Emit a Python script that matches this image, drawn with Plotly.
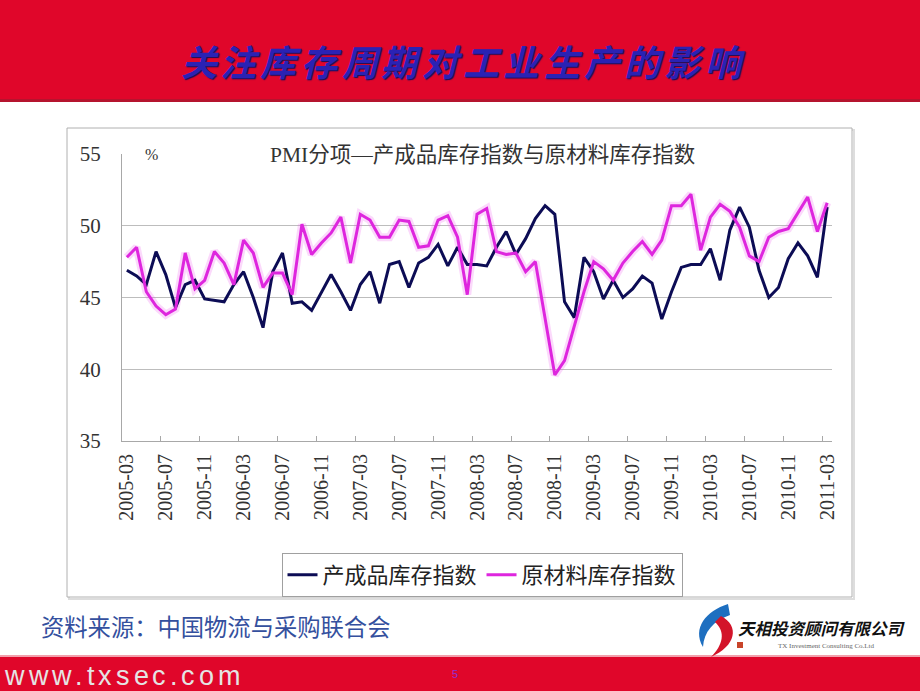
import plotly.graph_objects as go
import pandas as pd

# ---------------- data ----------------
months = pd.period_range("2005-03", "2011-03", freq="M").strftime("%Y-%m").tolist()

finished_goods = [46.9, 46.5, 45.9, 48.2, 46.6, 44.3, 45.9, 46.2, 44.9, 44.8, 44.7, 45.9,
                  46.8, 45.0, 42.9, 46.8, 48.1, 44.6, 44.7, 44.1, 45.3, 46.6, 45.4, 44.1,
                  45.9, 46.8, 44.6, 47.3, 47.5, 45.7, 47.4, 47.8, 48.7, 47.2, 48.5, 47.3,
                  47.3, 47.2, 48.5, 49.6, 48.0, 49.1, 50.5, 51.4, 50.8, 44.7, 43.6, 47.8,
                  46.8, 44.9, 46.2, 45.0, 45.6, 46.5, 46.0, 43.5, 45.4, 47.1, 47.3, 47.3,
                  48.4, 46.2, 49.7, 51.3, 49.9, 46.9, 45.0, 45.7, 47.7, 48.8, 47.9, 46.4,
                  51.3]

raw_materials = [47.8, 48.5, 45.4, 44.4, 43.8, 44.2, 48.1, 45.6, 46.2, 48.2, 47.4, 45.9,
                 49.0, 48.1, 45.7, 46.7, 46.7, 45.2, 50.1, 48.0, 48.8, 49.5, 50.6, 47.4,
                 50.8, 50.4, 49.2, 49.2, 50.4, 50.3, 48.5, 48.6, 50.4, 50.7, 49.2, 45.2,
                 50.8, 51.2, 48.2, 48.0, 48.1, 46.8, 47.5, 43.5, 39.6, 40.6, 43.1, 45.4,
                 47.5, 47.0, 46.2, 47.4, 48.2, 48.9, 48.0, 49.0, 51.4, 51.4, 52.2, 48.3,
                 50.6, 51.5, 51.0, 49.9, 47.9, 47.5, 49.2, 49.6, 49.8, 50.9, 52.0, 49.6,
                 51.6]

series_names = ["产成品库存指数", "原材料库存指数"]
y_ticks = [35, 40, 45, 50, 55]
grid_vals = [40, 45, 50]

slide_title = "关注库存周期对工业生产的影响"
chart_title = "PMI分项—产成品库存指数与原材料库存指数"
unit_label = "%"
source_text = "资料来源：中国物流与采购联合会"
footer_url = "www.txsec.com"
company_cn = "天相投资顾问有限公司"
company_en = "TX Investment Consulting Co.Ltd"
page_no = "5"

idx = list(range(len(months)))
tick_pos = idx[::4]
tick_text = months[::4]
between_ticks = [p + 3.5 for p in idx[:-4:4]]

# ---------------- geometry helpers ----------------
W, H = 920, 691
PL, PR, PT, PB = 122, 832, 154, 441


def px2x(x):
    return (x - PL) / (PR - PL)


def px2y(y):
    return (PB - y) / (PB - PT)


xr = [-0.5, 72.5]
yr = [35, 55]

serif = "Liberation Serif, 'Noto Sans CJK SC', serif"
cjk = "'Noto Sans CJK SC', sans-serif"

fig = go.Figure()
fig.add_trace(go.Scatter(x=idx, y=raw_materials, mode="lines",
                         line=dict(color="rgba(235,80,235,0.22)", width=8),
                         hoverinfo="skip", showlegend=False))
fig.add_trace(go.Scatter(x=idx, y=finished_goods, mode="lines", name=series_names[0],
                         line=dict(color="#0C0C55", width=3)))
fig.add_trace(go.Scatter(x=idx, y=raw_materials, mode="lines", name=series_names[1],
                         line=dict(color="#DE26DE", width=3), xaxis="x2", yaxis="y2"))

shapes = []
# header band
shapes.append(dict(type="rect", xref="paper", yref="paper", layer="below",
                   x0=px2x(-2), x1=px2x(W + 2), y0=px2y(-2), y1=px2y(99),
                   fillcolor="#E0062A", line=dict(width=0)))
shapes.append(dict(type="rect", xref="paper", yref="paper", layer="below",
                   x0=px2x(-2), x1=px2x(W + 2), y0=px2y(99), y1=px2y(102),
                   fillcolor="#B5142E", line=dict(width=0)))
# footer band
shapes.append(dict(type="rect", xref="paper", yref="paper", layer="below",
                   x0=px2x(-2), x1=px2x(W + 2), y0=px2y(657), y1=px2y(H + 2),
                   fillcolor="#E0062A", line=dict(width=0)))
shapes.append(dict(type="rect", xref="paper", yref="paper", layer="below",
                   x0=px2x(-2), x1=px2x(W + 2), y0=px2y(655), y1=px2y(657),
                   fillcolor="#F2A0AC", line=dict(width=0)))
# chart box with shadow
shapes.append(dict(type="rect", xref="paper", yref="paper", layer="below",
                   x0=px2x(69), x1=px2x(854), y0=px2y(130), y1=px2y(599),
                   line=dict(color="#DDDDDD", width=2)))
shapes.append(dict(type="rect", xref="paper", yref="paper", layer="below",
                   x0=px2x(67), x1=px2x(852), y0=px2y(128), y1=px2y(597),
                   fillcolor="white", line=dict(color="#B0B0B0", width=1)))


def path(points):
    s = ""
    for cmd, pts in points:
        s += cmd + " " + " ".join(f"{px2x(a):.5f},{px2y(b):.5f}" for a, b in pts) + " "
    return s + "Z"


# logo swooshes
shapes.append(dict(type="path", xref="paper", yref="paper", fillcolor="#1E6FC0",
                   line=dict(width=0),
                   path=path([("M", [(728, 604)]),
                              ("C", [(706, 611), (692, 628), (703, 647)]),
                              ("C", [(704, 632), (713, 621), (730, 615)])])))
shapes.append(dict(type="path", xref="paper", yref="paper", fillcolor="#D3142A",
                   line=dict(width=0),
                   path=path([("M", [(721, 616)]),
                              ("C", [(740, 626), (736, 646), (711, 657)]),
                              ("C", [(723, 645), (726, 632), (715, 622)])])))
shapes.append(dict(type="rect", xref="paper", yref="paper",
                   x0=px2x(737), x1=px2x(743), y0=px2y(642), y1=px2y(648),
                   fillcolor="#C8442A", line=dict(width=0)))

annotations = []
# slide title, spaced characters
pitch = 40.4
cx0 = 462.5 - pitch * (len(slide_title) - 1) / 2
for k, ch in enumerate(slide_title):
    annotations.append(dict(text=ch, xref="paper", yref="paper", showarrow=False,
                            x=px2x(cx0 + k * pitch), y=px2y(60), xanchor="center", yanchor="middle",
                            font=dict(family=cjk, size=36, color="#2A22B4", weight="bold",
                                      style="italic", shadow="1px 1px 1px #14105A")))

annotations.append(dict(text=chart_title, xref="paper", yref="paper", showarrow=False,
                        x=px2x(482), y=px2y(155), xanchor="center", yanchor="middle",
                        font=dict(family=serif, size=21.5, color="#333333")))
annotations.append(dict(text=unit_label, xref="paper", yref="paper", showarrow=False,
                        x=px2x(151), y=px2y(154), xanchor="center", yanchor="middle",
                        font=dict(family=serif, size=16, color="#333333")))
annotations.append(dict(text=source_text, xref="paper", yref="paper", showarrow=False,
                        x=px2x(39), y=px2y(626), xanchor="left", yanchor="middle",
                        font=dict(family=cjk, size=23.3, color="#34509E")))

# footer url with letter spacing
arial_w = {"w": 0.722, ".": 0.278, "t": 0.278, "x": 0.5, "s": 0.5, "e": 0.556,
           "c": 0.5, "o": 0.556, "m": 0.833}
fs_url, ls_url = 27, 4
xpos = 5
for ch in footer_url:
    wch = arial_w.get(ch, 0.55) * fs_url
    annotations.append(dict(text=ch, xref="paper", yref="paper", showarrow=False,
                            x=px2x(xpos + wch / 2), y=px2y(676), xanchor="center", yanchor="middle",
                            font=dict(family="Liberation Sans, Arial", size=fs_url, color="#E4E4E4")))
    xpos += wch + ls_url

annotations.append(dict(text=page_no, xref="paper", yref="paper", showarrow=False,
                        x=px2x(455), y=px2y(674), xanchor="center", yanchor="middle",
                        font=dict(family="Liberation Sans", size=11, color="#9030D0")))
annotations.append(dict(text=company_cn, xref="paper", yref="paper", showarrow=False,
                        x=px2x(822), y=px2y(628), xanchor="center", yanchor="middle",
                        font=dict(family=cjk, size=16.5, color="#111111", weight="bold",
                                  style="italic")))
annotations.append(dict(text=company_en, xref="paper", yref="paper", showarrow=False,
                        x=px2x(826), y=px2y(646), xanchor="center", yanchor="middle",
                        font=dict(family="Liberation Serif", size=7, color="#666666")))

axis_col = "#A8A8A8"
fig.update_layout(
    width=W, height=H,
    margin=dict(l=PL, r=W - PR, t=PT, b=H - PB, autoexpand=False),
    paper_bgcolor="white", plot_bgcolor="rgba(0,0,0,0)",
    hovermode=False,
    shapes=shapes, annotations=annotations,
    xaxis=dict(range=xr, tickvals=tick_pos, ticktext=tick_text, tickangle=-90,
               ticks="", showline=True, linecolor=axis_col, linewidth=1,
               showgrid=False, zeroline=False, ticklabelstandoff=4,
               tickfont=dict(family=serif, size=20, color="#333333")),
    yaxis=dict(range=yr, tickvals=y_ticks, ticks="", showline=True, linecolor=axis_col,
               linewidth=1, showgrid=False, zeroline=False, ticklabelstandoff=16,
               tickfont=dict(family=serif, size=21, color="#333333")),
    xaxis2=dict(range=xr, overlaying="x", anchor="y2", tickvals=between_ticks,
                ticks="inside", ticklen=5, tickcolor=axis_col, showticklabels=False,
                showline=False, showgrid=False, zeroline=False),
    yaxis2=dict(range=yr, overlaying="y", anchor="x2", tickvals=grid_vals,
                ticks="", showticklabels=False, showline=False, showgrid=True,
                gridcolor="#BDBDBD", gridwidth=1, zeroline=False),
    legend=dict(orientation="h", x=px2x(482), xanchor="center", y=px2y(553), yanchor="top",
                bordercolor="#A0A0A0", borderwidth=1, bgcolor="white",
                font=dict(family=serif, size=22, color="#222222"),
                itemwidth=30, tracegroupgap=0),
)

fig.write_html("out.html", config={"displayModeBar": False},
               post_script="document.body.style.margin='0px';document.body.style.overflow='hidden';")
